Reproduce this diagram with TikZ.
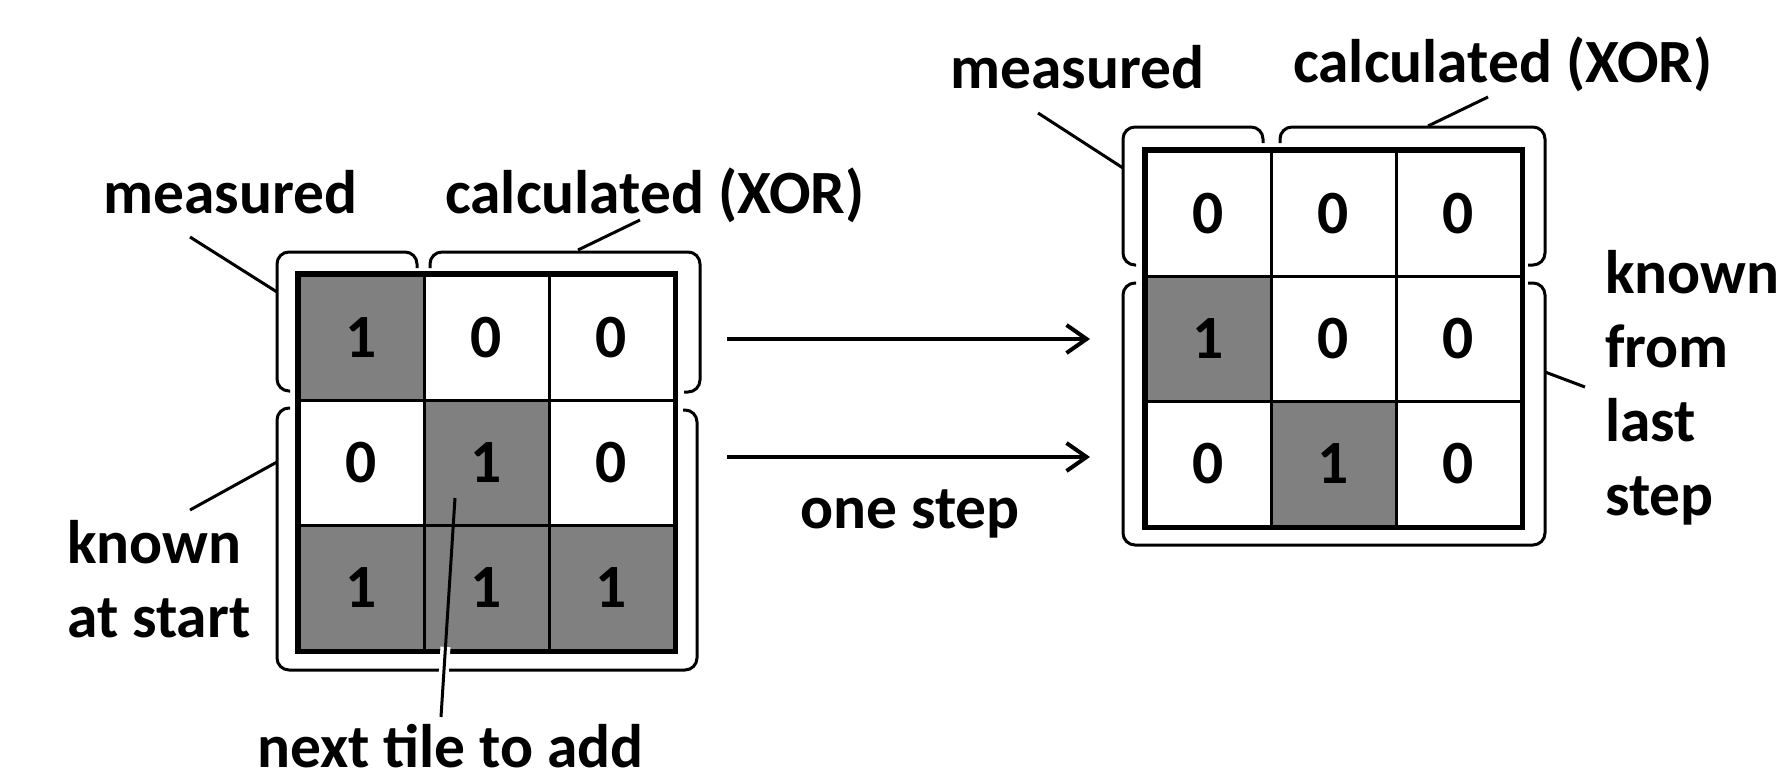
\documentclass[tikz,border=0pt]{standalone}
\usepackage{fontspec}
\setmainfont{Carlito}
\usetikzlibrary{arrows.meta,calc}
\definecolor{tilegray}{HTML}{808080}
\newcommand\lblfont{\fontsize{61.5}{72}\selectfont\bfseries}
\tikzset{
  cell/.style={draw, line width=3pt, minimum size=125pt, inner sep=0pt, font=\lblfont},
  gridborder/.style={draw, line width=5pt},
  brk/.style={line width=3pt, rounded corners=12pt},
  lead/.style={line width=3pt},
  lbl/.style={font=\lblfont, inner sep=0pt, anchor=base west},
  stepar/.style={line width=4pt, -{Straight Barb[length=20pt,width=28pt,line width=4pt]}}
}
\begin{document}
\begin{tikzpicture}[x=1pt,y=-1pt]
\useasboundingbox (0,0) rectangle (1790,774);
% ---------- left grid ----------
\foreach \r/\c/\v/\f in {1/1/1/tilegray,1/2/0/white,1/3/0/white,
                         2/1/0/white,2/2/1/tilegray,2/3/0/white,
                         3/1/1/tilegray,3/2/1/tilegray,3/3/1/tilegray}
  \node[cell, fill=\f] (L\r\c) at ({299+62.5+125*(\c-1)},{275+62.5+125*(\r-1)}) {\v};
\draw[gridborder] (L11.north west) rectangle (L33.south east);
% ---------- right grid ----------
\foreach \r/\c/\v/\f in {1/1/0/white,1/2/0/white,1/3/0/white,
                         2/1/1/tilegray,2/2/0/white,2/3/0/white,
                         3/1/0/white,3/2/1/tilegray,3/3/0/white}
  \node[cell, fill=\f] (R\r\c) at ({1146+62.5+125*(\c-1)},{151+62.5+125*(\r-1)}) {\v};
\draw[gridborder] (R11.north west) rectangle (R33.south east);
% ---------- left brackets ----------
\draw[brk] (290,391) -- (277,391) -- (277,252) -- (417,252) -- (417,268);
\draw[brk] (430,268) -- (430,252) -- (700,252) -- (700,392) -- (684,392);
\draw[brk] (290,408) -- (277,408) -- (277,670) -- (697,670) -- (697,410) -- (683,410);
% ---------- right brackets ----------
\draw[brk] (1136,265) -- (1123,265) -- (1123,127) -- (1263,127) -- (1263,143);
\draw[brk] (1280,143) -- (1280,127) -- (1545,127) -- (1545,265) -- (1528,265);
\draw[brk] (1136,283) -- (1123,283) -- (1123,545) -- (1545,545) -- (1545,283) -- (1528,283);
% ---------- labels ----------
\node[lbl] (lmeas) at (103,213) {measured};
\node[lbl] (lcalc) at (445,213) {calculated (XOR)};
\node[lbl] (lknownA) at (67,563) {known};
\node[lbl] (lknownB) at (67,637) {at start};
\node[lbl] (lnext) at (257,767) {next tile to add};
\node[lbl] (onestep) at (800,528) {one step};
\node[lbl] (rmeas) at (950,88) {measured};
\node[lbl] (rcalc) at (1293,82) {calculated (XOR)};
\node[lbl] (rknownA) at (1605,293) {known};
\node[lbl] (rknownB) at (1605,367) {from};
\node[lbl] (rknownC) at (1605,441) {last};
\node[lbl] (rknownD) at (1605,515) {step};
% ---------- leader lines ----------
\coordinate (lmeasA) at (190,237);   \coordinate (lmeasB) at (277,292);
\coordinate (lcalcA) at (640,220);   \coordinate (lcalcB) at (578,250);
\coordinate (lknA) at (190,510);     \coordinate (lknB) at (277,462);
\coordinate (lnxA) at (441,717);     \coordinate (lnxB) at (455,498);
\coordinate (rmeasA) at (1038,113);  \coordinate (rmeasB) at (1123,168);
\coordinate (rcalcA) at (1488,97);   \coordinate (rcalcB) at (1428,126);
\coordinate (rknA) at (1585,387);    \coordinate (rknB) at (1545,372);
\draw[lead] (lmeasA) -- (lmeasB);
\draw[lead] (lcalcA) -- (lcalcB);
\draw[lead] (lknA) -- (lknB);
\draw[white, line width=10pt] ($(lnxA)!0.12!(lnxB)$) -- ($(lnxA)!0.32!(lnxB)$);
\draw[lead] (lnxA) -- (lnxB);
\draw[lead] (rmeasA) -- (rmeasB);
\draw[lead] (rcalcA) -- (rcalcB);
\draw[lead] (rknA) -- (rknB);
% ---------- step arrows ----------
\coordinate (a1s) at (727,339); \coordinate (a1e) at (1090,339);
\coordinate (a2s) at (727,457); \coordinate (a2e) at (1090,457);
\draw[stepar] (a1s) -- (a1e);
\draw[stepar] (a2s) -- (a2e);
\end{tikzpicture}
\end{document}
